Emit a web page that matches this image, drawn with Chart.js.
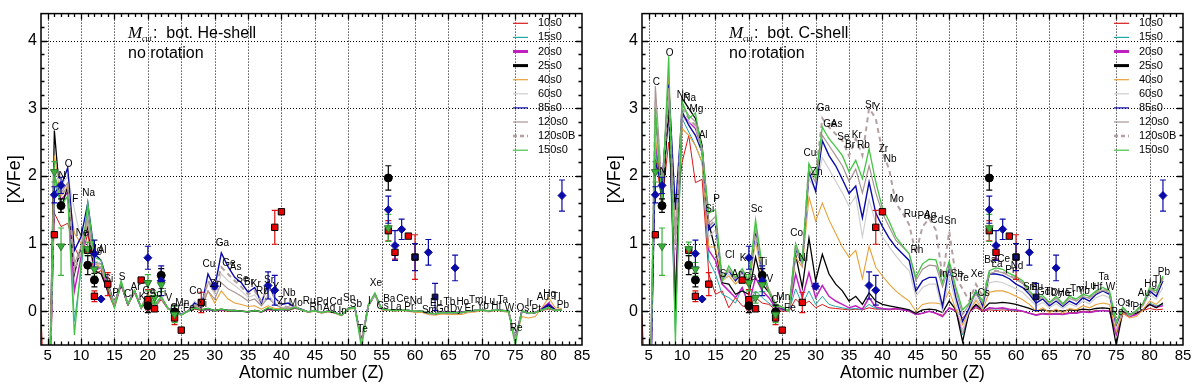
<!DOCTYPE html>
<html><head><meta charset="utf-8">
<script src="https://cdn.jsdelivr.net/npm/chart.js@4.4.1/dist/chart.umd.min.js"></script>
<style>
html,body{margin:0;padding:0;background:#fff;width:1200px;height:391px;overflow:hidden;}
.wrap{position:absolute;top:0;width:600px;height:391px;}
</style></head><body>
<div class="wrap" style="left:0"><canvas id="c1" width="600" height="391"></canvas></div>
<div class="wrap" style="left:600px"><canvas id="c2" width="600" height="391"></canvas></div>
<script>
// ---------- categories ----------
const atomicNumbers = [4,5,6,7,8,9,10,11,12,13,14,15,16,17,18,19,20,21,22,23,24,25,26,27,28,29,30,31,32,33,34,35,36,37,38,39,40,41,42,43,44,45,46,47,48,49,50,51,52,53,54,55,56,57,58,59,60,61,62,63,64,65,66,67,68,69,70,71,72,73,74,75,76,77,78,79,80,81,82];
const elementSymbols = ['Be','B','C','N','O','F','Ne','Na','Mg','Al','Si','P','S','Cl','Ar','K','Ca','Sc','Ti','V','Cr','Mn','Fe','Co','Ni','Cu','Zn','Ga','Ge','As','Se','Br','Kr','Rb','Sr','Y','Zr','Nb','Mo','Tc','Ru','Rh','Pd','Ag','Cd','In','Sn','Sb','Te','I','Xe','Cs','Ba','La','Ce','Pr','Nd','Pm','Sm','Eu','Gd','Tb','Dy','Ho','Er','Tm','Yb','Lu','Hf','Ta','W','Re','Os','Ir','Pt','Au','Hg','Tl','Pb'];
const unlabeledSymbols = ['Be','B','Tc','Pm'];
const seriesNames = ['10s0','15s0','20s0','25s0','40s0','60s0','85s0','120s0','120s0B','150s0'];
const xTickValues = [5,10,15,20,25,30,35,40,45,50,55,60,65,70,75,80,85];
const yTickValues = [0,1,2,3,4];

// ---------- left panel: Mcut at bottom of He-shell ----------
const he_10s0 = [-0.05,-2.5,1.45,1.25,1.3,0.95,0.75,1.15,0.55,0.6,
 0.28,0.05,0.38,0.08,0.27,0.04,0.22,0.05,0.17,0.03,0.0,-0.05,0.0,0.03,0.01,
 0.02,0.0,0.01,0.0,0.0,0.0,-0.01,0.0,-0.01,0.02,0.01,0.02,0.01,0.04,
 0.02,-0.01,0.0,-0.02,0.0,-0.03,-0.05,0.04,0.04,-0.42,
 0.07,0.24,0.02,0.02,0.01,0.02,0.0,0.0,0.0,-0.03,
 -0.04,-0.02,-0.02,-0.02,-0.02,0.0,0.0,0.02,0.0,0.01,
 0.01,0.0,-0.4,0.0,-0.03,-0.02,0.01,0.03,0.01,0.02];
const he_15s0 = [null,-2.5,1.9,1.6,1.7,-0.15,0.6,1.55,0.75,0.7,
 0.33,0.08,0.4,0.1,0.3,0.05,0.25,0.06,0.2,0.04,0.0,-0.05,0.0,0.04,0.02,
 0.02,0.0,0.02,0.01,0.0,0.0,-0.01,0.01,-0.01,0.03,0.01,0.02,0.01,0.05,
 0.02,-0.01,0.01,-0.02,0.0,-0.02,-0.06,0.04,0.05,-0.45,
 0.08,0.25,0.03,0.02,0.01,0.02,0.01,0.0,0.0,-0.03,
 -0.04,-0.02,-0.02,-0.02,-0.02,0.0,0.01,0.02,0.0,0.02,
 0.01,0.0,-0.42,0.0,-0.03,-0.02,0.02,0.06,0.01,0.02];
const he_20s0 = [null,-2.5,2.0,1.65,1.75,0.3,0.8,1.3,0.6,0.65,
 0.3,0.1,0.4,0.1,0.3,0.05,0.25,0.07,0.2,0.04,0.0,-0.05,0.0,0.05,0.02,
 0.03,0.01,0.02,0.01,0.01,0.0,-0.01,0.01,-0.01,0.03,0.02,0.03,0.01,0.06,
 0.02,-0.01,0.01,-0.02,0.0,-0.02,-0.06,0.04,0.05,-0.45,
 0.08,0.25,0.03,0.02,0.01,0.02,0.01,0.0,0.0,-0.03,
 -0.04,-0.02,-0.02,-0.02,-0.02,0.0,0.01,0.02,0.0,0.02,
 0.01,0.0,-0.42,0.0,-0.03,-0.02,0.04,0.12,0.02,0.02];
const he_25s0 = [null,-2.5,2.67,1.5,1.85,0.55,0.95,1.25,0.6,0.55,
 0.3,0.12,0.4,0.1,0.3,0.05,0.24,0.07,0.2,0.04,0.0,-0.05,0.0,0.05,0.02,
 0.04,0.01,0.03,0.01,0.01,0.0,-0.01,0.01,-0.01,0.04,0.02,0.03,0.02,0.06,
 0.02,-0.01,0.01,-0.02,0.0,-0.02,-0.06,0.04,0.05,-0.45,
 0.08,0.25,0.03,0.02,0.01,0.02,0.01,0.0,0.0,-0.03,
 -0.04,-0.02,-0.02,-0.02,-0.02,0.0,0.01,0.02,0.0,0.02,
 0.01,0.0,-0.42,0.0,-0.03,-0.02,0.03,0.08,0.01,0.02];
const he_40s0 = [null,-2.5,2.3,1.7,1.85,1.15,1.0,1.3,0.7,0.65,
 0.38,0.1,0.42,0.1,0.3,0.05,0.25,0.07,0.2,0.04,0.0,-0.05,0.0,0.08,0.03,
 0.3,0.12,0.3,0.18,0.12,0.1,0.07,0.08,0.03,0.08,0.04,0.04,0.03,0.07,
 0.02,-0.02,0.0,-0.03,-0.01,-0.03,-0.07,0.03,0.04,-0.45,
 0.07,0.24,0.02,0.01,0.0,0.01,0.0,-0.02,-0.02,-0.05,
 -0.06,-0.04,-0.05,-0.05,-0.05,-0.02,-0.01,0.01,-0.01,0.01,
 0.0,-0.02,-0.42,-0.08,-0.1,-0.08,0.05,0.2,0.05,0.04];
const he_60s0 = [null,-2.5,2.1,1.85,2.0,1.5,1.05,1.35,0.75,0.7,
 0.4,0.1,0.42,0.1,0.3,0.05,0.25,0.08,0.2,0.04,0.0,-0.04,0.0,0.15,0.04,
 0.42,0.25,0.55,0.45,0.38,0.3,0.2,0.24,0.1,0.25,0.12,0.06,0.05,0.07,
 0.02,-0.01,0.01,-0.02,0.0,-0.02,-0.06,0.04,0.05,-0.45,
 0.08,0.25,0.03,0.02,0.01,0.02,0.01,0.0,0.0,-0.03,
 -0.04,-0.02,-0.02,-0.02,-0.02,0.0,0.01,0.02,0.0,0.02,
 0.01,0.0,-0.42,0.0,-0.03,-0.02,0.02,0.05,0.01,0.02];
const he_85s0 = [null,-2.5,1.75,1.85,2.12,0.9,1.1,1.6,0.85,0.75,
 0.42,0.1,0.42,0.1,0.3,0.05,0.25,0.08,0.2,0.04,0.0,-0.04,0.0,0.12,0.05,
 0.55,0.35,0.86,0.66,0.5,0.42,0.28,0.35,0.12,0.4,0.2,0.1,0.12,0.06,
 0.03,-0.01,0.01,-0.02,0.0,-0.02,-0.06,0.04,0.05,-0.45,
 0.08,0.25,0.03,0.02,0.01,0.02,0.01,0.0,0.0,-0.03,
 -0.04,-0.02,-0.02,-0.02,-0.02,0.0,0.01,0.02,0.0,0.02,
 0.01,0.0,-0.42,0.0,-0.03,-0.02,0.03,0.1,0.02,0.02];
const he_120s0 = [null,-2.5,2.0,1.75,1.9,0.7,0.95,1.4,0.7,0.7,
 0.38,0.1,0.42,0.1,0.3,0.05,0.25,0.07,0.2,0.04,0.0,-0.05,0.0,0.08,0.03,
 0.3,0.18,0.42,0.33,0.28,0.22,0.15,0.18,0.08,0.2,0.1,0.05,0.04,0.07,
 0.02,-0.01,0.01,-0.02,0.0,-0.02,-0.06,0.04,0.05,-0.45,
 0.08,0.25,0.03,0.02,0.01,0.02,0.01,0.0,0.0,-0.03,
 -0.04,-0.02,-0.02,-0.02,-0.02,0.0,0.01,0.02,0.0,0.02,
 0.01,0.0,-0.42,0.0,-0.03,-0.02,0.02,0.05,0.01,0.02];
const he_120s0B = [null,-2.5,1.9,1.7,1.85,0.6,0.9,1.35,0.65,0.65,
 0.37,0.1,0.42,0.1,0.3,0.05,0.25,0.07,0.2,0.04,0.0,-0.05,0.0,0.1,0.04,
 0.45,0.3,0.65,0.55,0.45,0.36,0.25,0.3,0.15,0.35,0.2,0.08,0.06,0.07,
 0.02,-0.01,0.01,-0.02,0.0,-0.02,-0.06,0.04,0.05,-0.45,
 0.08,0.25,0.03,0.02,0.01,0.02,0.01,0.0,0.0,-0.03,
 -0.04,-0.02,-0.02,-0.02,-0.02,0.0,0.01,0.02,0.0,0.02,
 0.01,0.0,-0.42,0.0,-0.03,-0.02,0.02,0.05,0.01,0.02];
const he_150s0 = [null,-2.5,2.05,1.55,1.7,-0.35,0.7,1.6,0.8,0.75,
 0.35,0.05,0.45,0.1,0.3,0.05,0.25,0.1,0.22,0.04,-0.02,-0.06,0.0,0.05,0.02,
 0.04,0.01,0.03,0.01,0.01,0.0,-0.01,0.01,-0.01,0.05,0.02,0.03,0.02,0.06,
 0.02,-0.01,0.01,-0.02,0.0,-0.02,-0.06,0.04,0.05,-0.55,
 0.1,0.27,0.03,0.02,0.01,0.02,0.01,0.0,0.0,-0.03,
 -0.04,-0.02,-0.02,-0.02,-0.02,0.0,0.01,0.02,0.0,0.02,
 0.01,0.0,-0.5,0.0,-0.03,-0.02,0.02,0.05,0.01,0.02];

// ---------- right panel: Mcut at bottom of C-shell ----------
const c_10s0 = [-0.05,-2.5,2.3,1.6,2.5,1.3,2.2,2.6,1.9,1.95,
 0.55,0.25,0.3,0.05,0.2,0.08,0.05,0.2,0.12,0.1,0.02,0.0,0.0,0.18,0.08,
 0.15,0.05,0.1,0.05,0.04,0.03,0.02,0.03,0.02,0.05,0.03,0.03,0.02,0.03,0.02,0.01,-0.05,
 -0.03,0.0,-0.03,-0.06,0.04,0.02,-0.1,0.0,0.05,0.0,
 0.02,0.01,0.02,0.01,0.0,0.0,-0.03,-0.05,-0.03,-0.04,
 -0.03,-0.04,-0.02,-0.02,0.0,-0.01,0.01,0.01,0.0,-0.2,
 -0.02,-0.05,-0.03,0.01,0.04,0.02,0.03];
const c_15s0 = [null,-2.5,2.4,1.7,2.9,-0.3,2.85,2.65,2.45,2.2,
 0.75,0.55,0.25,0.2,0.12,0.35,0.1,0.3,0.2,0.12,0.05,0.02,0.0,0.33,0.1,
 0.3,0.1,0.22,0.1,0.07,0.05,0.03,0.04,0.02,0.1,0.04,0.03,0.03,0.04,0.02,0.01,-0.05,
 -0.03,0.0,-0.03,-0.08,0.04,0.0,-0.35,-0.02,0.07,0.0,
 0.04,0.03,0.04,0.02,0.01,0.0,-0.03,-0.06,-0.04,-0.05,
 -0.04,-0.05,-0.03,-0.03,-0.01,-0.02,0.0,0.01,0.0,-0.3,
 -0.03,-0.07,-0.05,0.02,0.12,0.08,0.1];
const c_20s0 = [null,-2.5,2.5,1.75,3.0,0.2,2.9,2.8,2.7,2.4,
 0.9,0.75,0.4,0.3,0.2,0.35,0.1,0.5,0.3,0.2,0.05,0.03,0.0,0.55,0.2,
 0.57,0.2,0.38,0.22,0.15,0.1,0.05,0.08,0.03,0.2,0.06,0.04,0.03,0.04,0.02,0.0,-0.05,
 -0.03,0.0,-0.03,-0.08,0.05,0.0,-0.3,-0.02,0.08,0.0,
 0.05,0.04,0.05,0.03,0.02,0.0,-0.03,-0.06,-0.04,-0.05,
 -0.04,-0.05,-0.03,-0.03,-0.01,-0.02,0.0,0.01,0.0,-0.35,
 -0.03,-0.08,-0.05,0.02,0.1,0.06,0.08];
const c_25s0 = [null,-2.5,2.9,1.5,3.05,0.0,3.15,3.0,2.85,2.45,
 1.3,0.9,0.42,0.4,0.25,0.3,0.25,0.8,0.4,0.28,0.08,0.04,0.0,0.84,0.35,
 1.08,0.45,0.84,0.55,0.4,0.3,0.15,0.22,0.1,0.27,0.15,0.1,0.08,0.06,0.04,0.02,-0.03,
 0.02,0.03,0.02,-0.02,0.15,0.02,-0.45,0.0,0.1,0.02,
 0.12,0.12,0.13,0.12,0.1,0.07,0.04,0.0,0.02,0.0,
 0.01,0.0,0.02,0.01,0.03,0.02,0.04,0.05,0.04,-0.5,
 0.0,-0.05,-0.03,0.02,0.1,0.05,0.12];
const c_40s0 = [null,-2.5,2.6,1.8,3.5,1.2,2.7,2.6,2.45,2.2,
 0.95,0.95,0.45,0.52,0.4,0.5,0.35,1.03,0.5,0.28,0.1,0.05,0.0,0.8,0.65,
 1.69,1.33,1.6,1.35,1.15,0.95,0.8,0.9,0.48,0.96,0.65,0.52,0.4,0.3,0.22,0.15,0.0,
 0.1,0.12,0.12,0.1,0.3,0.02,-0.2,0.0,0.16,0.02,
 0.28,0.3,0.3,0.27,0.22,0.17,0.1,0.0,0.05,-0.02,
 0.03,-0.03,0.04,0.02,0.08,0.05,0.1,0.12,0.1,-0.3,
 -0.03,-0.1,-0.08,0.02,0.15,0.1,0.2];
const c_60s0 = [null,-2.5,2.7,1.9,3.2,1.4,2.85,2.8,2.75,2.4,
 1.1,1.2,0.45,0.55,0.45,0.55,0.4,1.1,0.55,0.3,0.1,0.05,0.0,0.88,0.7,
 1.95,1.8,2.27,2.1,1.92,1.75,1.55,1.7,1.1,1.65,1.3,1.1,0.95,0.82,0.7,0.6,0.22,
 0.35,0.4,0.4,0.0,0.5,0.12,-0.3,0.02,0.2,0.05,
 0.42,0.44,0.42,0.38,0.33,0.28,0.18,0.08,0.13,0.05,
 0.11,0.04,0.11,0.07,0.15,0.11,0.2,0.24,0.2,-0.25,
 0.03,-0.06,-0.01,0.07,0.25,0.18,0.35];
const c_85s0 = [null,-2.5,2.2,1.85,3.35,1.5,2.95,2.75,2.6,2.35,
 1.2,1.3,0.47,0.6,0.45,0.58,0.4,1.2,0.55,0.3,0.1,0.05,0.0,0.92,0.7,
 2.06,1.77,2.52,2.3,2.15,1.95,1.74,1.85,1.38,1.91,1.45,1.25,1.08,0.95,0.85,0.75,0.3,
 0.45,0.5,0.5,0.07,0.67,0.2,-0.15,0.05,0.3,0.08,
 0.55,0.55,0.53,0.48,0.4,0.35,0.25,0.12,0.18,0.08,
 0.15,0.07,0.15,0.1,0.2,0.15,0.25,0.3,0.25,-0.2,
 0.05,-0.05,0.0,0.1,0.3,0.22,0.45];
const c_120s0 = [null,-2.5,3.33,1.8,3.3,1.0,3.05,2.9,2.8,2.4,
 1.3,1.4,0.5,0.62,0.48,0.6,0.42,1.25,0.6,0.32,0.11,0.06,0.0,0.95,0.72,
 2.1,1.9,2.6,2.45,2.3,2.15,1.92,2.1,1.75,2.15,1.75,1.45,1.25,1.05,0.95,0.85,0.45,
 0.62,0.68,0.67,0.36,0.66,0.3,-0.05,0.1,0.25,0.12,
 0.55,0.59,0.57,0.52,0.47,0.41,0.27,0.17,0.2,0.11,
 0.19,0.09,0.19,0.15,0.22,0.19,0.27,0.31,0.27,-0.18,
 0.05,-0.07,0.0,0.09,0.32,0.27,0.48];
const c_120s0B = [null,-2.5,3.1,1.75,3.25,0.9,3.0,2.85,2.75,2.35,
 1.25,1.35,0.5,0.6,0.47,0.58,0.41,1.2,0.58,0.31,0.1,0.05,0.0,0.93,0.7,
 2.15,2.0,2.85,2.72,2.62,2.52,2.3,2.55,2.3,3.0,2.85,2.35,2.1,1.6,1.45,1.28,0.85,
 1.25,1.37,1.2,0.5,1.18,0.5,0.33,0.15,0.4,0.22,
 0.57,0.6,0.58,0.53,0.48,0.42,0.28,0.18,0.21,0.12,
 0.2,0.1,0.2,0.16,0.23,0.2,0.28,0.32,0.28,-0.17,
 0.05,-0.06,0.01,0.1,0.33,0.28,0.5];
const c_150s0 = [null,-2.5,3.0,1.6,3.77,-0.45,3.1,2.85,2.93,2.35,
 1.45,1.5,0.45,0.67,0.5,0.63,0.45,1.35,0.67,0.28,0.11,0.06,0.0,1.0,0.74,
 2.18,1.96,2.72,2.55,2.43,2.3,2.06,2.23,1.96,2.4,1.91,1.52,1.33,1.1,0.97,0.85,0.5,
 0.7,0.77,0.76,0.42,0.74,0.35,0.02,0.12,0.3,0.15,
 0.6,0.64,0.62,0.56,0.51,0.45,0.3,0.2,0.23,0.13,
 0.22,0.11,0.22,0.18,0.25,0.22,0.3,0.35,0.3,-0.16,
 0.06,-0.06,0.01,0.11,0.35,0.3,0.52];

// ---------- observed stars (same in both panels) ----------
const obsRedZ   = [6,11,12,14,19,20,21,24,25,28,39,40,56,57,59,60];
const obsRedVal = [1.13,0.9,0.22,0.4,0.46,0.17,0.035,-0.1,-0.28,0.13,1.24,1.47,1.19,0.87,1.11,0.8];
const obsRedErr = [0,0,0.08,0.17,0,0.15,0,0.1,0,0.15,0.25,0,0.15,0.1,0,0.33];
const obsBlackZ   = [7,11,12,20,22,24,56];
const obsBlackVal = [1.56,0.68,0.46,0.08,0.53,-0.01,1.97];
const obsBlackErr = [0.1,0.14,0.1,0.1,0.1,0.1,0.18];
const obsBlueZ   = [6,7,12,13,20,22,30,38,39,56,57,58,62,66,82];
const obsBlueVal = [1.72,1.86,0.85,0.18,0.79,0.45,0.37,0.38,0.31,1.5,0.97,1.21,0.87,0.64,1.71];
const obsBlueErr = [0.12,0.12,0.2,0,0.17,0.22,0.04,0.2,0.22,0.2,0.22,0.15,0.19,0.19,0.23];
const obsNavyZ   = [60,63];
const obsNavyVal = [0.8,0.21];
const obsNavyErr = [0.2,0.2];
const obsGreenZ     = [6,7,11,12,20,21,22,24,56];
const obsGreenVal   = [2.06,0.96,0.92,0.62,0.42,0.2,0.39,-0.05,1.23];
const obsGreenErrLo = [0.15,0.43,0.1,0.1,0.12,0.08,0.1,0.12,0.2];
const obsGreenErrHi = [0.15,0.27,0.1,0.1,0.12,0.08,0.1,0.12,0.2];

// ---------- styles ----------
const seriesColors = ['#d81818','#22a6a6','#c020c0','#000000','#e8a038','#cfcfcf','#0a0aa8','#a89494','#b4a0a0','#44c444'];
const seriesWidths = [1,1,1.5,1.3,1.1,1.2,1.4,1.2,2,1.3];
const FONT = '"Liberation Sans", Arial, sans-serif';

function buildModelDatasets(panel) {
  return seriesNames.map((name, i) => ({
    label: name,
    data: atomicNumbers.map((z, j) => ({x: z, y: panel[i][j]})),
    showLine: true, pointRadius: 0, pointHoverRadius: 0,
    borderColor: seriesColors[i], backgroundColor: seriesColors[i],
    borderWidth: seriesWidths[i], borderDash: name === '120s0B' ? [5, 4] : [],
    tension: 0, fill: false, order: 20 - i, spanGaps: false
  }));
}
function obsDataset(label, zs, vals, style, radius, fill, stroke, order, rot) {
  return {
    label, data: zs.map((z, i) => ({x: z, y: vals[i]})), showLine: false,
    pointStyle: style, pointRadius: radius, pointHoverRadius: radius,
    pointRotation: rot || 0, backgroundColor: fill, borderColor: stroke,
    borderWidth: 1, order
  };
}
const errorSets = [
  {z: obsRedZ, v: obsRedVal, lo: obsRedErr, hi: obsRedErr, color: '#e01010'},
  {z: obsGreenZ, v: obsGreenVal, lo: obsGreenErrLo, hi: obsGreenErrHi, color: '#3cb03c'},
  {z: obsBlackZ, v: obsBlackVal, lo: obsBlackErr, hi: obsBlackErr, color: '#000000'},
  {z: obsBlueZ, v: obsBlueVal, lo: obsBlueErr, hi: obsBlueErr, color: '#0a0aa8'},
  {z: obsNavyZ, v: obsNavyVal, lo: obsNavyErr, hi: obsNavyErr, color: '#0a0aa8'}
];

function drawErrorBars(chart) {
  const xs = chart.scales.x, ys = chart.scales.y, ctx = chart.ctx, a = chart.chartArea;
  ctx.save();
  ctx.beginPath(); ctx.rect(a.left, a.top, a.right - a.left, a.bottom - a.top); ctx.clip();
  ctx.lineWidth = 1.2;
  errorSets.forEach(s => {
    ctx.strokeStyle = s.color;
    s.z.forEach((z, i) => {
      if (!s.lo[i] && !s.hi[i]) return;
      const x = xs.getPixelForValue(z);
      const y1 = ys.getPixelForValue(s.v[i] - s.lo[i]);
      const y2 = ys.getPixelForValue(s.v[i] + s.hi[i]);
      ctx.beginPath();
      ctx.moveTo(x, y1); ctx.lineTo(x, y2);
      ctx.moveTo(x - 3, y1); ctx.lineTo(x + 3, y1);
      ctx.moveTo(x - 3, y2); ctx.lineTo(x + 3, y2);
      ctx.stroke();
    });
  });
  ctx.restore();
}

function makeChart(canvasId, panel, shellText, yWidth, rightPad) {
  const datasets = buildModelDatasets(panel).concat([
    obsDataset('obsRed', obsRedZ, obsRedVal, 'rect', 4.5, '#e80000', '#000', 5),
    obsDataset('obsBlack', obsBlackZ, obsBlackVal, 'circle', 4, '#000', '#000', 4),
    obsDataset('obsBlue', obsBlueZ, obsBlueVal, 'rectRot', 4, '#0a0aa8', '#0a0aa8', 3),
    obsDataset('obsNavy', obsNavyZ, obsNavyVal, 'rect', 4, '#101070', '#000', 2),
    obsDataset('obsGreen', obsGreenZ, obsGreenVal, 'triangle', 4.5, '#3cb03c', '#2a7a2a', 1, 180)
  ]);

  const decor = {
    id: 'decor',
    beforeDatasetsDraw(chart) {
      const {ctx, chartArea: a, scales: {x: xs, y: ys}} = chart;
      ctx.save();
      ctx.strokeStyle = '#000'; ctx.lineWidth = 1; ctx.setLineDash([1, 2]);
      xTickValues.forEach(v => {
        const x = Math.round(xs.getPixelForValue(v)) + 0.5;
        if (x > a.right - 2) return;
        ctx.beginPath(); ctx.moveTo(x, a.top); ctx.lineTo(x, a.bottom); ctx.stroke();
      });
      yTickValues.forEach(v => {
        const y = Math.round(ys.getPixelForValue(v)) + 0.5;
        ctx.beginPath(); ctx.moveTo(a.left, y); ctx.lineTo(a.right, y); ctx.stroke();
      });
      ctx.restore();
    },
    afterDatasetDraw(chart, args) {
      if (chart.data.datasets[args.index].label === '150s0') drawErrorBars(chart);
    },
    afterDatasetsDraw(chart) {
      const {ctx, chartArea: a, scales: {x: xs, y: ys}} = chart;
      ctx.save();
      ctx.font = '10px ' + FONT; ctx.fillStyle = '#000';
      ctx.textAlign = 'center'; ctx.textBaseline = 'middle';
      let k = 0;
      atomicNumbers.forEach((z, j) => {
        const sym = elementSymbols[j];
        if (unlabeledSymbols.includes(sym)) return;
        let m = -Infinity;
        panel.forEach(s => { if (s[j] !== null && s[j] > m) m = s[j]; });
        const v = m + 0.1 + (k % 2 ? 0.05 : -0.05);
        k++;
        let y = ys.getPixelForValue(v);
        y = Math.min(Math.max(y, a.top + 6), a.bottom - 5);
        ctx.fillText(sym, xs.getPixelForValue(z) + 1, y);
      });
      ctx.restore();
    },
    afterDraw(chart) {
      const {ctx, chartArea: a, scales: {x: xs, y: ys}} = chart;
      ctx.save();
      ctx.strokeStyle = '#000'; ctx.lineWidth = 1.5;
      ctx.strokeRect(a.left, a.top, a.right - a.left, a.bottom - a.top);
      ctx.lineWidth = 1.3;
      ctx.beginPath();
      for (let z = 5; z < 85; z++) {
        const x = Math.round(xs.getPixelForValue(z)) + 0.5;
        const L = z % 5 === 0 ? 6 : 3.5;
        ctx.moveTo(x, a.bottom); ctx.lineTo(x, a.bottom - L);
        ctx.moveTo(x, a.top); ctx.lineTo(x, a.top + L);
      }
      for (let t = -2; t <= 22; t++) {
        const v = t * 0.2;
        const y = Math.round(ys.getPixelForValue(v)) + 0.5;
        if (y <= a.top + 1 || y >= a.bottom - 1) continue;
        const L = t % 5 === 0 ? 6 : 3.5;
        ctx.moveTo(a.left, y); ctx.lineTo(a.left + L, y);
        ctx.moveTo(a.right, y); ctx.lineTo(a.right - L, y);
      }
      ctx.stroke();
      // legend
      ctx.textAlign = 'left'; ctx.textBaseline = 'middle';
      ctx.font = '11px ' + FONT;
      seriesNames.forEach((name, i) => {
        const y = 23.3 + i * 14.1;
        ctx.strokeStyle = seriesColors[i];
        ctx.lineWidth = (name === '20s0' || name === '25s0') ? 3 : (name === '120s0B' ? 2.5 : 1.2);
        ctx.setLineDash(name === '120s0B' ? [4, 3] : []);
        ctx.beginPath(); ctx.moveTo(a.left + 472, y); ctx.lineTo(a.left + 487, y); ctx.stroke();
        ctx.setLineDash([]);
        ctx.fillStyle = '#000';
        ctx.fillText(name, a.left + 497, y);
      });
      // annotation
      const ax = a.left + 87;
      ctx.fillStyle = '#000'; ctx.textBaseline = 'alphabetic';
      ctx.font = 'italic 17px "Liberation Serif", serif';
      ctx.fillText('M', ax, 38);
      ctx.font = 'italic 8px "Liberation Serif", serif';
      ctx.fillText('cut', ax + 14, 41);
      ctx.font = '16px ' + FONT;
      ctx.fillText(':  bot. ' + shellText, ax + 25, 38);
      ctx.fillText('no rotation', ax, 58);
      ctx.restore();
    }
  };

  return new Chart(document.getElementById(canvasId), {
    type: 'scatter',
    data: {datasets},
    options: {
      responsive: false, animation: false, devicePixelRatio: 1,
      layout: {padding: {top: 10, right: rightPad, bottom: 0, left: 0}},
      plugins: {legend: {display: false}, tooltip: {enabled: false}, title: {display: false}},
      scales: {
        x: {
          type: 'linear', min: 4, max: 85,
          grid: {display: false, drawTicks: false}, border: {display: false},
          afterBuildTicks: s => { s.ticks = xTickValues.map(v => ({value: v})); },
          afterFit: s => { s.height = 46; },
          ticks: {font: {size: 15, family: FONT}, color: '#000', padding: 2, maxRotation: 0, autoSkip: false},
          title: {display: true, text: 'Atomic number (Z)', font: {size: 17.5, family: FONT}, color: '#000', padding: {top: 0, bottom: 7}}
        },
        y: {
          type: 'linear', min: -0.5, max: 4.4,
          grid: {display: false, drawTicks: false}, border: {display: false},
          afterBuildTicks: s => { s.ticks = yTickValues.map(v => ({value: v})); },
          afterFit: s => { s.width = yWidth; },
          ticks: {font: {size: 16, family: FONT}, color: '#000', padding: 4},
          title: {display: true, text: '[X/Fe]', font: {size: 18, family: FONT}, color: '#000', padding: {top: 4, bottom: 0}}
        }
      }
    },
    plugins: [decor]
  });
}

makeChart('c1', [he_10s0, he_15s0, he_20s0, he_25s0, he_40s0, he_60s0, he_85s0, he_120s0, he_120s0B, he_150s0], 'He-shell', 41, 18);
makeChart('c2', [c_10s0, c_15s0, c_20s0, c_25s0, c_40s0, c_60s0, c_85s0, c_120s0, c_120s0B, c_150s0], 'C-shell', 42, 17);
</script>
</body></html>
